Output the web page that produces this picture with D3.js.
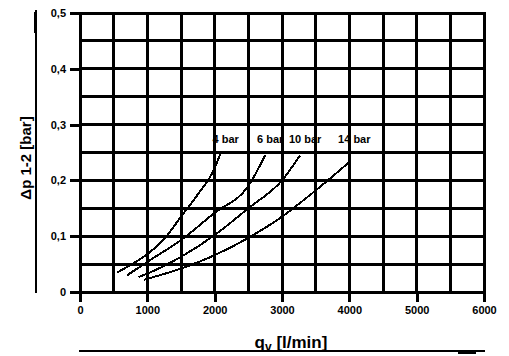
<!DOCTYPE html>
<html>
<head>
<meta charset="utf-8">
<script src="https://cdn.jsdelivr.net/npm/d3@7"></script>
<style>
  body { margin: 0; background: #fff; }
  text { font-family: "Liberation Sans", Arial, sans-serif; font-weight: bold; fill: #000; }
</style>
</head>
<body>
<div id="chart"></div>
<script>
const width = 509;
const height = 356;

// data (flow in l/min, pressure drop in bar)
const xTicks = [0, 1000, 2000, 3000, 4000, 5000, 6000];
const yTicks = [0, 0.1, 0.2, 0.3, 0.4, 0.5];
const yTickLabels = ["0", "0,1", "0,2", "0,3", "0,4", "0,5"];
const seriesNames = ["4 bar", "6 bar", "10 bar", "14 bar"];
const flow4 = [550, 800, 1000, 1250, 1500, 1750, 2000, 2090];
const dp4 = [0.035, 0.052, 0.068, 0.095, 0.135, 0.175, 0.222, 0.25];
const flow6 = [700, 1000, 1500, 2000, 2500, 2750];
const dp6 = [0.03, 0.054, 0.093, 0.142, 0.19, 0.245];
const flow10 = [870, 1000, 1500, 2000, 2500, 3000, 3270];
const dp10 = [0.027, 0.033, 0.063, 0.102, 0.15, 0.2, 0.245];
const flow14 = [950, 1500, 2000, 2500, 3000, 3500, 4000];
const dp14 = [0.022, 0.042, 0.066, 0.097, 0.135, 0.182, 0.233];

const series = [[flow4, dp4], [flow6, dp6], [flow10, dp10], [flow14, dp14]]
  .map((s, i) => ({ name: seriesNames[i], points: s[0].map((f, j) => [f, s[1][j]]) }));

const svg = d3.select("#chart")
  .append("svg")
    .attr("width", width)
    .attr("height", height);

const x = d3.scaleLinear().domain([0, 6000]).range([80, 484]);
const y = d3.scaleLinear().domain([0, 0.5]).range([292, 13]);

// grid every 500 l/min and every 0.05 bar
const grid = svg.append("g")
  .attr("stroke", "#000")
  .attr("stroke-width", 3)
  .attr("shape-rendering", "crispEdges");

grid.selectAll(".vg")
  .data(d3.range(0, 6001, 500))
  .enter().append("line")
    .attr("x1", d => x(d)).attr("x2", d => x(d))
    .attr("y1", y(0.5) - 1).attr("y2", y(0) + 1);

grid.selectAll(".hg")
  .data(d3.range(0, 11).map(i => i * 0.05))
  .enter().append("line")
    .attr("x1", x(0) - 1).attr("x2", x(6000) + 1)
    .attr("y1", d => y(d)).attr("y2", d => y(d));

// axes with ticks poking out
const xAxis = d3.axisBottom(x).tickValues(xTicks).tickSize(10).tickPadding(4)
  .tickFormat(d3.format("d"));
const gx = svg.append("g")
  .attr("transform", "translate(0," + y(0) + ")")
  .call(xAxis);
gx.select(".domain").remove();
gx.selectAll("line").attr("stroke-width", 3).attr("shape-rendering", "crispEdges");
gx.selectAll("text").style("font-size", "11px").attr("fill", "#000");

const yAxis = d3.axisLeft(y).tickValues(yTicks).tickSize(10).tickPadding(4)
  .tickFormat((d, i) => yTickLabels[i]);
const gy = svg.append("g")
  .attr("transform", "translate(" + x(0) + ",0)")
  .call(yAxis);
gy.select(".domain").remove();
gy.selectAll("line").attr("stroke-width", 3).attr("shape-rendering", "crispEdges");
gy.selectAll("text").style("font-size", "11px").attr("fill", "#000");

// left axis line extended downward
svg.append("line")
  .attr("x1", x(0)).attr("x2", x(0))
  .attr("y1", y(0)).attr("y2", y(0) + 10)
  .attr("stroke", "#000").attr("stroke-width", 3)
  .attr("shape-rendering", "crispEdges");

// curves
const line = d3.line()
  .x(d => x(d[0]))
  .y(d => y(d[1]))
  .curve(d3.curveMonotoneX);

svg.selectAll(".curve")
  .data(series)
  .enter().append("path")
    .attr("d", d => line(d.points))
    .attr("fill", "none")
    .attr("stroke", "#000")
    .attr("stroke-width", 2)
    .attr("shape-rendering", "crispEdges");

svg.selectAll(".clabel")
  .data(series)
  .enter().append("text")
    .attr("x", d => x(d.points[d.points.length - 1][0]) + 5)
    .attr("y", 143)
    .attr("text-anchor", "middle")
    .style("font-size", "11px")
    .text(d => d.name);

// axis titles with their long lines
svg.append("line")
  .attr("x1", 36).attr("x2", 36).attr("y1", 10).attr("y2", 293)
  .attr("stroke", "#000").attr("stroke-width", 2).attr("shape-rendering", "crispEdges");
svg.append("line")
  .attr("x1", 35).attr("x2", 35).attr("y1", 12).attr("y2", 33)
  .attr("stroke", "#000").attr("stroke-width", 3).attr("shape-rendering", "crispEdges");

svg.append("text")
  .attr("transform", "translate(31,158) rotate(-90)")
  .attr("text-anchor", "middle")
  .style("font-size", "15px")
  .text("Δp 1-2 [bar]");

svg.append("line")
  .attr("x1", 79).attr("x2", 485).attr("y1", 351).attr("y2", 351)
  .attr("stroke", "#000").attr("stroke-width", 2).attr("shape-rendering", "crispEdges");
svg.append("line")
  .attr("x1", 458).attr("x2", 476).attr("y1", 352).attr("y2", 352)
  .attr("stroke", "#000").attr("stroke-width", 3).attr("shape-rendering", "crispEdges");

const xt = svg.append("text")
  .attr("x", 291).attr("y", 348)
  .attr("text-anchor", "middle")
  .style("font-size", "17px");
xt.append("tspan").text("q");
xt.append("tspan").attr("dy", 3).style("font-size", "12px").text("v");
xt.append("tspan").attr("dy", -3).text(" [l/min]");
</script>
</body>
</html>
